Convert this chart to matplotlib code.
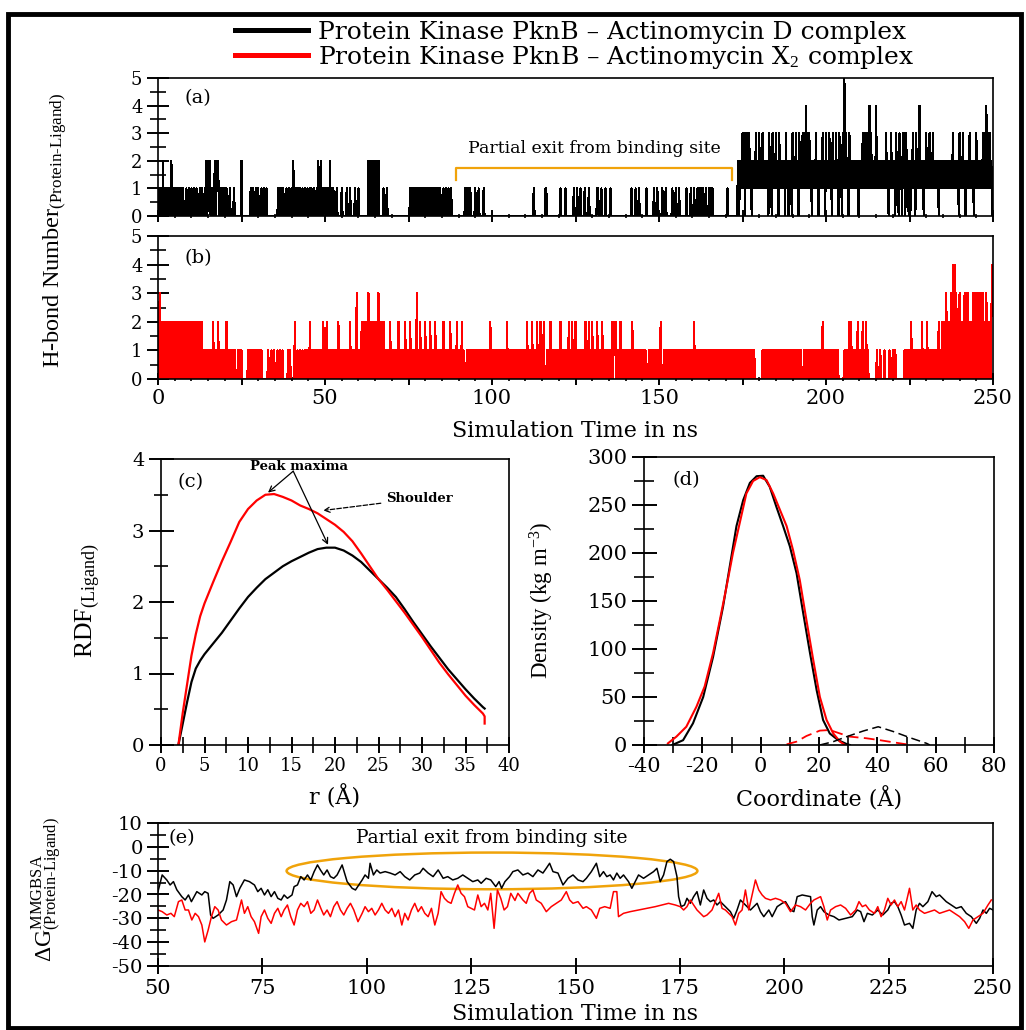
import numpy as np
import matplotlib
matplotlib.use("Agg")
import matplotlib.pyplot as plt
from matplotlib.lines import Line2D
from matplotlib.patches import Ellipse, Rectangle
from matplotlib.ticker import MultipleLocator, FuncFormatter

# ---------------- data ----------------
# H-bond counts, one digit per 0.25 ns, 25 ns (100 digits) per block
HB_STEP = 0.25
HBOND_D_BLOCKS = [
    # 0-25 ns
    "101010" "20" "10101010" "20" "10101010101010"
    "001001001001001000100100" "102012201010201220" "1010101010" "0010000100000000",
    # 25-50
    "20000000" "000100100100100010010010" "000000000000" "10101010"
    "0010010010" "2001001010" "0100100100" "1010010010" "20020101",
    # 50-75
    "10101020" "0010001000" "0010000010" "0010000010" "0010000000" "0000"
    "20202020202020" "0000100010" "000000000000000000000000",
    # 75-100
    "00" "10101010101010101010101010101010101010" "00100100100100" "00000000000000"
    "10101010" "000010001000001000000000",
    # 100-125
    "00000000000000000000000000000000000000000000000000" "1" "0000000000000" "11"
    "0000000000000000" "1" "00000" "1" "000000000" "1" "0",
    # 125-150
    "0010001000" "0100001000" "0000001100" "0100001000" "0010000000"
    "0000000000" "0000000100" "0010001000" "0000010000" "0000100010",
    # 150-175
    "0000100010" "0000001000" "1000100000" "0001000010" "0010001010"
    "1001001000" "1010100000" "0000000000" "0010000000" "0000120212",
    # 175-200
    "3130313131" "2021213121" "3121312121" "2031203121" "3120312121"
    "2031202120" "3121312031" "2131314131" "3120212131" "2021213120",
    # 200-225
    "3121312031" "2131203120" "3151312031" "2121212120" "2121313131"
    "3141312121" "4121212121" "2131202131" "2120312031" "2031303120",
    # 225-250
    "2021312031" "2141212021" "3121312131" "2121202121" "2121212121"
    "2131212120" "3121312021" "2131212021" "3121212131" "3141313120",
]
HBOND_X_BLOCKS = [
    # 0-25 ns
    "2030" "20202020202020202020202020202020202020202020202020"
    "101010101010" "20" "1010" "20" "10101010" "20" "10101010" "10001010",
    # 25-50
    "10000000" "101010101010101010" "000000"
    "1000100100" "0100100100" "0000101000" "0020010010" "0100"
    "101010" "20" "10101010101010" "20",
    # 50-75
    "10" "20" "101010101010" "20" "101010101010" "20" "101010" "30" "1010"
    "20202020" "30" "2020202020" "30" "202020"
    "101010" "20" "10101010" "20" "101010" "20" "10",
    # 75-100
    "10201010103010201010" "20101020101020101010" "10201010102010101020"
    "10102010001010101010" "10101010101010101020",
    # 100-125
    "10101010101010101020" "10101010101010101010" "10201010201010201020"
    "10200010102010101010" "10201010101020102010",
    # 125-150
    "20101010101020102010" "20101020101020101010" "10102021201010201010"
    "10101010201010101010" "10101000101010101010",
    # 150-175
    "10200010101010101010" "10101010101010101010" "10201010101010101010"
    "10101010101010101010" "10101010101010101010",
    # 175-200
    "1010101010101010" "00000000" "101010101010101010101010101010101010101010101010"
    "00" "1010101010101010101010" "20" "10",
    # 200-225
    "1010101010101010" "000000" "101010202010101020101020102010" "000000000"
    "10001000010000010001001" "0000000000" "101010",
    # 225-250
    "10201" "00" "1010101020" "1010201010" "1010101020" "10201"
    "2030202030" "4040302030" "2020303030" "2020303030" "3030303020" "30202024",
]

# radial distribution function
RDF_D_R = [2.0, 2.5, 3.0, 3.5, 4.0, 4.5, 5.0, 6.0, 7.0, 8.0, 9.0, 10.0, 11.0, 12.0, 13.0,
           14.0, 15.0, 16.0, 17.0, 18.0, 19.0, 20.0, 21.0, 22.0, 23.0, 24.0, 25.0, 26.0,
           27.0, 28.0, 29.0, 30.0, 31.0, 32.0, 33.0, 34.0, 35.0, 36.0, 37.0, 37.2]
RDF_D_G = [0.0, 0.30, 0.60, 0.88, 1.07, 1.18, 1.27, 1.42, 1.57, 1.74, 1.91, 2.07, 2.20,
           2.32, 2.41, 2.50, 2.57, 2.63, 2.69, 2.74, 2.76, 2.76, 2.72, 2.65, 2.56, 2.44,
           2.32, 2.20, 2.07, 1.90, 1.72, 1.55, 1.38, 1.22, 1.06, 0.92, 0.78, 0.65, 0.53, 0.51]
RDF_X_R = [2.0, 2.5, 3.0, 3.5, 4.0, 4.5, 5.0, 6.0, 7.0, 8.0, 9.0, 10.0, 11.0, 12.0, 13.0,
           14.0, 15.0, 16.0, 17.0, 18.0, 19.0, 20.0, 21.0, 22.0, 23.0, 24.0, 25.0, 26.0,
           27.0, 28.0, 29.0, 30.0, 31.0, 32.0, 33.0, 34.0, 35.0, 36.0, 37.0, 37.2, 37.2]
RDF_X_G = [0.0, 0.45, 0.85, 1.25, 1.55, 1.80, 1.98, 2.28, 2.57, 2.84, 3.12, 3.30, 3.42,
           3.50, 3.51, 3.47, 3.42, 3.35, 3.30, 3.24, 3.16, 3.08, 2.98, 2.85, 2.68, 2.50,
           2.32, 2.17, 2.01, 1.85, 1.68, 1.51, 1.33, 1.15, 0.99, 0.84, 0.69, 0.56, 0.44,
           0.40, 0.30]

# density profiles (solid = ligand in site, dashed = second population)
DEN_D_X = [-30.3, -26.6, -23.2, -19.7, -16.3, -12.9, -10.6, -8.3, -6.0, -3.7, -1.4, 0.85,
           3.1, 5.4, 7.7, 10.0, 12.3, 14.6, 16.9, 19.2, 21.4, 23.7, 26.6, 29.5, 30.6]
DEN_D_Y = [0, 5, 22.6, 50, 92, 144, 186, 228, 255, 273, 280, 280.5,
           269, 248, 228, 207, 179, 137, 96, 57, 26, 12, 5, 1, 0]
DEN_X_X = [-31.8, -28.9, -25.5, -22.0, -19.2, -16.3, -14.0, -11.7, -9.5, -7.2, -4.9, -2.6, -0.3,
           2.0, 4.3, 6.6, 8.9, 11.1, 13.4, 15.7, 18.0, 20.3, 22.6, 24.9, 27.2, 28.9]
DEN_X_Y = [1.7, 8.7, 19, 40, 61, 96, 130, 165, 200, 231, 262, 275, 279,
           276, 262, 245, 228, 203, 172, 130, 89, 50, 26, 12, 3.5, 0]
DEN_X2_X = [8.9, 12.3, 15.7, 20.3, 23.7, 27.2, 30.6, 36.3, 40.9, 45.5, 50.0]
DEN_X2_Y = [0.7, 3.5, 9.4, 15, 15.6, 12, 8.7, 7, 5, 2.8, 0.7]
DEN_D2_X = [20.3, 24.9, 29.5, 35.2, 40.3, 45.5, 51.2, 56.9, 58.0]
DEN_D2_Y = [0, 3.5, 8.7, 14.6, 19, 14, 7.6, 1.7, 0]

# MMGBSA binding energy
DG_D_T = [50, 51, 52.1, 52.9, 53.7, 54.5, 55.7, 56.5, 57.3, 58, 59.3, 60.5, 61.2, 62, 62.6,
          63.2, 64.4, 65.6, 66.4, 67.2, 68, 68.8, 69.6, 70.7, 71.9, 73.1, 73.9, 74.7, 75.5,
          76.3, 77.1, 77.9, 78.7, 79.5, 80.2, 81, 82.1, 82.6, 83.4, 84.2, 85, 85.8, 86.6,
          87.4, 88.2, 88.9, 89.7, 90.5, 91.3, 92.1, 92.9, 94.1, 95.3, 96.5, 97.3, 98.1, 98.9,
          99.6, 100.4, 100.8, 101.6, 102.4, 103.2, 104.4, 105.6, 106.8, 108, 109.1, 110.3,
          111.5, 112.7, 113.5, 114.7, 115.9, 117.1, 118.3, 119.4, 120.6, 121.8, 123, 124.2,
          125.4, 126.6, 127.4, 128.6, 129.7, 130.9, 131.7, 132.3, 133.1, 134.2, 135, 136.2,
          137.4, 138.6, 139.8, 141, 142.2, 143, 143.8, 144.6, 145.8, 147, 148.2, 149.4, 150.6,
          151.8, 152.6, 153.8, 155, 155.8, 156.7, 157.5, 158.3, 159.1, 159.9, 160.7, 161.5,
          162.7, 163.5, 164.3, 165.1, 166.3, 167.5, 168.7, 169.5, 170.3, 171.1, 171.9, 172.7,
          173.5, 174.3, 174.7, 175.3, 176.1, 176.7, 177.5, 178.3, 179.1, 179.9, 180.7, 181.5,
          182.3, 183.1, 183.9, 184.7, 185.9, 187.1, 187.9, 188.7, 189.5, 190.7, 191.9, 192.7,
          193.5, 194.3, 195.1, 196.3, 197.1, 198.3, 199.5, 200.3, 201.5, 202.3, 203.1, 204.3,
          205.5, 206.3, 206.7, 207.1, 207.9, 208.7, 209.5, 210.7, 211.9, 213.1, 214.7, 216.3,
          217.5, 218.3, 219.1, 219.9, 221.1, 222.4, 223.6, 224.8, 225.6, 226.4, 227.2, 228,
          228.8, 230, 230.8, 231.6, 232.4, 233.2, 234.4, 235.4, 236.4, 237.2, 238, 238.8, 240,
          241.2, 242.4, 243.6, 244.8, 246, 246.8, 247.6, 248.4, 249.2, 250]
DG_D_V = [-18.8, -11.8, -13.9, -16, -14.6, -18, -20.9, -22.3, -20.2, -23, -18.8, -20.2, -18.8,
          -19.5, -28.6, -30, -28.6, -26.5, -22.3, -14.6, -16, -20.9, -17.4, -13.9, -14.6, -16,
          -18.8, -17.4, -20.2, -18, -20.9, -18.8, -21.6, -22.3, -20.2, -21.6, -20.2, -16.7, -16,
          -12.5, -13.9, -11.8, -13.9, -10.4, -7.6, -9.7, -11.8, -9.7, -12.5, -13.2, -11.8, -7.6,
          -14.6, -17.4, -18.1, -16, -13.9, -11.8, -13.2, -6.9, -11.8, -9.7, -11, -10.4, -11,
          -11.8, -10.4, -12.5, -13.9, -11.8, -11, -9, -11, -12.5, -9.7, -13.2, -12.5, -13.9,
          -13.2, -11.8, -13.2, -14.6, -13.9, -15.3, -13.2, -13.9, -16.7, -14.6, -17.4, -14.6,
          -12.5, -10.4, -9.7, -11.8, -11, -12.5, -9.7, -11, -9, -6.9, -10.4, -11, -16, -13.2,
          -11.8, -13.9, -14.6, -13.2, -10.4, -6.9, -12.5, -10.4, -12.5, -11.8, -13.9, -11,
          -13.2, -11.8, -14.6, -17.4, -14.6, -11.8, -13.2, -11.8, -10.4, -9, -14.6, -11.8, -6.2,
          -5.2, -6.2, -12.5, -20.9, -25.1, -24.4, -21.6, -23.7, -20.9, -18.8, -24.4, -18.1,
          -21.6, -23, -22.3, -24.4, -23, -25.1, -27.2, -30, -26.5, -22.3, -24.4, -26.5, -25.1,
          -23.7, -27.2, -29.3, -26.5, -29.3, -25.1, -23.7, -23, -26.5, -27.2, -20.9, -20.2,
          -20.6, -20.9, -29.3, -32.8, -26.5, -25.1, -27.2, -28.6, -29.3, -30.7, -30, -29.3,
          -26.5, -27.2, -31.4, -27.9, -28.6, -26.5, -28.6, -26.5, -23.7, -23, -25.1, -28.6,
          -32.8, -32.1, -34.2, -26.5, -23.7, -25.1, -23, -18.8, -20.9, -20.2, -21.6, -23, -24.4,
          -25.8, -25.1, -27.9, -29.3, -32.1, -30, -26.5, -27.9, -25.8, -26.5]
DG_X_T = [50, 51, 52.1, 53.1, 53.9, 54.9, 55.7, 56.5, 57.3, 58.1, 58.9, 59.7, 60.5, 61.2, 62,
          62.8, 63.6, 64.4, 65.2, 66.4, 67.6, 68.8, 70, 70.7, 71.5, 72.3, 73.1, 74.1, 74.7,
          75.5, 76.3, 77.1, 77.9, 78.7, 79.5, 80.2, 81, 81.8, 82.6, 83.4, 84.2, 85, 85.8, 86.6,
          87.4, 88.2, 89, 89.7, 90.5, 91.3, 92.1, 92.9, 93.7, 94.5, 95.3, 96.1, 96.9, 97.9,
          98.9, 99.6, 100.4, 101.2, 102, 102.8, 103.6, 104.4, 105.2, 106, 106.8, 107.6, 108.4,
          109.1, 109.9, 110.7, 111.5, 112.3, 113.1, 113.9, 114.7, 115.5, 116.3, 117.1, 117.8,
          118.6, 119.4, 120.2, 121, 121.8, 122.6, 123.4, 124.2, 125, 125.8, 126.6, 127.4, 128.2,
          129, 129.7, 130.5, 131.3, 132.1, 132.9, 133.7, 134.5, 135.5, 136.2, 137.4, 138.2, 139,
          139.8, 140.6, 141.8, 143, 144.2, 145.4, 146.6, 147.8, 148.6, 149.4, 150.6, 151.8,
          152.6, 153.8, 155, 155.8, 157, 158.3, 159.1, 159.9, 160.3, 161.5, 163.1, 165.1, 167.1,
          169.1, 170.7, 172.3, 173.9, 175.1, 175.9, 176.7, 177.5, 178.3, 179.1, 179.9, 180.7,
          181.5, 182.7, 183.5, 184.3, 185.1, 185.9, 186.7, 187.5, 188.3, 189.1, 189.9, 190.7,
          191.5, 192.3, 193.1, 193.9, 194.7, 195.5, 196.7, 197.9, 199.1, 200.3, 201.5, 202.7,
          203.9, 205.1, 206.3, 207.1, 207.9, 208.7, 209.5, 210.3, 211.1, 212.3, 213.5, 214.7,
          215.9, 217.1, 217.9, 218.7, 219.5, 220.4, 221.6, 222.4, 223.2, 224, 224.8, 225.6,
          226.4, 227.2, 228, 228.8, 230, 230.8, 231.6, 232.4, 233.6, 234.8, 236, 237.2, 238.4,
          239.6, 240.8, 242, 243.2, 244.2, 245.2, 246.4, 247.6, 248.8, 249.6]
DG_X_V = [-26.5, -27.2, -28.6, -27.9, -29.3, -23, -22.3, -26.5, -26.5, -30.7, -27.9, -29.3,
          -32.8, -39.9, -35, -29.3, -25.1, -26.5, -30.7, -32.8, -31.4, -30.7, -22.3, -27.9,
          -25.1, -29.3, -31.4, -36.3, -29.3, -26.5, -30, -32.1, -27.9, -25.8, -29.3, -26.5,
          -24.4, -29.3, -32.8, -26.5, -23.7, -25.1, -23, -27.9, -26.5, -22.3, -25.8, -28.6,
          -26.5, -29.3, -25.1, -23, -26.5, -28.6, -25.8, -23.7, -26.5, -31.4, -27.9, -25.1,
          -27.2, -25.8, -28.6, -26.5, -23.7, -26.5, -27.9, -25.8, -29.3, -26.5, -32.8, -27.9,
          -30.7, -26.5, -23.7, -27.2, -25.1, -27.9, -29.3, -25.8, -32.8, -27.9, -18.8, -21.6,
          -23, -23.7, -19.5, -16, -19.5, -20.9, -25.1, -25.8, -26.5, -20.2, -25.1, -23.7, -26.5,
          -19.5, -34.2, -18.1, -21.6, -26.5, -25.1, -19.5, -22.5, -19.5, -22.3, -23.7, -19.5,
          -18.1, -22.3, -23.7, -27.2, -25.1, -23.7, -22.3, -18.8, -22.3, -23.7, -23, -25.8,
          -25.1, -26.5, -30, -25.8, -25.1, -25.8, -18.8, -18.8, -29.3, -27.9, -27.2, -26.5,
          -25.8, -25.1, -24.4, -23.7, -24.4, -25.1, -26.5, -25.1, -22.3, -24.4, -26.5, -27.9,
          -29.3, -28.6, -26.5, -23, -19.5, -25.8, -26.5, -27.9, -29.3, -32.8, -27.9, -26.5,
          -18.1, -26.5, -20.2, -13.9, -18.1, -20.2, -21.6, -22.3, -21.6, -22.3, -23.7, -27.2,
          -24.4, -25.1, -26.5, -23.7, -22.3, -21.6, -20.9, -25.1, -30.7, -26.5, -25.1, -24.4,
          -25.8, -28.6, -26.5, -23, -25.1, -24.4, -26.5, -27.9, -25.1, -29.3, -26.5, -21.6,
          -24.4, -22.3, -25.1, -23, -26.5, -17.4, -26.5, -24.4, -26.5, -27.9, -27.2, -26.5,
          -27.9, -27.2, -26.5, -27.9, -29.3, -31.4, -34.2, -30.7, -29.3, -27.9, -24.4, -22.3]

# annotation spans (ns)
EXIT_BRACKET = (89.2, 171.9)
EXIT_ELLIPSE = (80.8, 179.2, -17.8, -2.4)

LABEL_D = "Protein Kinase PknB \u2013 Actinomycin D complex"
LABEL_X = "Protein Kinase PknB \u2013 Actinomycin X$_2$ complex"
HB_TICKS = [0, 50, 100, 150, 200, 250]

ORANGE = "#f0a30a"

# ---------------- figure ----------------
plt.rcParams["font.family"] = "DejaVu Serif"
plt.rcParams["mathtext.fontset"] = "custom"
plt.rcParams["mathtext.rm"] = "Liberation Serif"
plt.rcParams["mathtext.it"] = "Liberation Serif:italic"
plt.rcParams["mathtext.bf"] = "Liberation Serif:bold"
plt.rcParams["axes.unicode_minus"] = False
plt.rcParams["axes.linewidth"] = 1.2

W, H = 1026, 1030
fig = plt.figure(figsize=(W / 100, H / 100), dpi=100)


def px_box(left, top, right, bottom):
    return [left / W, 1 - bottom / H, (right - left) / W, (bottom - top) / H]


def style_ticks(ax, xmaj, xmin, ymaj, ymin, xlen, ylen, xsize, ysize):
    ax.xaxis.set_major_locator(MultipleLocator(xmaj))
    ax.yaxis.set_major_locator(MultipleLocator(ymaj))
    if xmin:
        ax.xaxis.set_minor_locator(MultipleLocator(xmin))
    if ymin:
        ax.yaxis.set_minor_locator(MultipleLocator(ymin))
    ax.tick_params(axis="x", which="major", direction="inout", length=xlen[0], width=1.4,
                   labelsize=xsize, pad=3)
    ax.tick_params(axis="x", which="minor", direction="inout", length=xlen[1], width=1.2)
    ax.tick_params(axis="y", which="major", direction="inout", length=ylen[0], width=1.4,
                   labelsize=ysize, pad=3)
    ax.tick_params(axis="y", which="minor", direction="inout", length=ylen[1], width=1.2)


hb_d = np.array([int(c) for c in "".join(HBOND_D_BLOCKS)], dtype=float)
hb_x = np.array([int(c) for c in "".join(HBOND_X_BLOCKS)], dtype=float)
t_d = np.arange(len(hb_d)) * HB_STEP
t_x = np.arange(len(hb_x)) * HB_STEP

hb_fmt = FuncFormatter(lambda v, p: f"{v:g}" if int(round(v)) in HB_TICKS else "")

# (a)
ax_a = fig.add_axes(px_box(158, 78, 993, 216))
ax_a.plot(t_d, hb_d, color="black", lw=0.85, antialiased=False)
ax_a.set_xlim(0, 250)
ax_a.set_ylim(0, 5)
style_ticks(ax_a, 25, 5, 1, 0.5, (8.5, 2.5), (16.5, 11), 15, 13)
ax_a.tick_params(axis="x", labelbottom=False)
ax_a.plot([EXIT_BRACKET[0], EXIT_BRACKET[0], EXIT_BRACKET[1], EXIT_BRACKET[1]],
          [1.3, 1.74, 1.74, 1.3], color=ORANGE, lw=1.6)
ax_a.text(sum(EXIT_BRACKET) / 2, 2.46, "Partial exit from binding site",
          ha="center", va="center", fontsize=12.5)
ax_a.text(0.032, 0.855, "(a)", transform=ax_a.transAxes, fontsize=14, va="center")

# (b)
ax_b = fig.add_axes(px_box(158, 236, 993, 379))
ax_b.plot(t_x, hb_x, color="#ff0000", lw=0.85, antialiased=False)
ax_b.set_xlim(0, 250)
ax_b.set_ylim(0, 5)
style_ticks(ax_b, 25, 5, 1, 0.5, (8.5, 2.5), (16.5, 11), 15, 13)
ax_b.xaxis.set_major_formatter(hb_fmt)
ax_b.set_xlabel("Simulation Time in ns", fontsize=16)
ax_b.xaxis.set_label_coords(0.5, -0.29)
ax_b.text(0.032, 0.846, "(b)", transform=ax_b.transAxes, fontsize=14, va="center")

fig.text(55 / W, 1 - 230 / H, "H-bond Number$_{\\text{(Protein-Ligand)}}$",
         rotation=90, ha="center", va="center", fontsize=17.5, family="Liberation Serif")

# (c)
ax_c = fig.add_axes(px_box(161, 459, 509, 745))
ax_c.plot(RDF_D_R, RDF_D_G, color="black", lw=1.6)
ax_c.plot(RDF_X_R, RDF_X_G, color="#ff0000", lw=1.6)
ax_c.set_xlim(0, 40)
ax_c.set_ylim(0, 4)
style_ticks(ax_c, 5, 2.5, 1, 0.5, (11, 11), (18, 10), 13, 14)
ax_c.set_xlabel("r (\u00c5)", fontsize=16)
ax_c.xaxis.set_label_coords(0.5, -0.14)
ax_c.text(0.046, 0.92, "(c)", transform=ax_c.transAxes, fontsize=14, va="center")
arrow = dict(arrowstyle="->", color="black", lw=0.9, shrinkA=0, shrinkB=0)
ax_c.annotate("", xy=(12.3, 3.53), xytext=(15.2, 3.83), arrowprops=arrow)
ax_c.annotate("", xy=(19.2, 2.80), xytext=(15.2, 3.83), arrowprops=arrow)
ax_c.text(15.9, 3.89, "Peak maxima", ha="center", va="center", fontsize=9.5, fontweight="bold")
ax_c.annotate("Shoulder", xy=(18.65, 3.28), xytext=(25.9, 3.45), va="center", ha="left",
              fontsize=9.5, fontweight="bold",
              arrowprops=dict(arrowstyle="->", color="black", lw=0.9, ls="--",
                              shrinkA=2, shrinkB=0))
fig.text(88 / W, 1 - 601 / H, "RDF$_{\\text{(Ligand)}}$", rotation=90, ha="center",
         va="center", fontsize=18.5, family="Liberation Serif")

# (d)
ax_d = fig.add_axes(px_box(644, 457, 994, 745))
ax_d.plot(DEN_D_X, DEN_D_Y, color="black", lw=1.5)
ax_d.plot(DEN_X_X, DEN_X_Y, color="#ff0000", lw=1.5)
ax_d.plot(DEN_X2_X, DEN_X2_Y, color="#ff0000", lw=1.3, ls=(0, (6, 3)))
ax_d.plot(DEN_D2_X, DEN_D2_Y, color="black", lw=1.1, ls=(0, (6, 3)))
ax_d.set_xlim(-40, 80)
ax_d.set_ylim(0, 300)
style_ticks(ax_d, 20, 10, 50, 25, (12, 12), (18, 14), 15, 15)
ax_d.set_xlabel("Coordinate (\u00c5)", fontsize=16)
ax_d.xaxis.set_label_coords(0.5, -0.146)
ax_d.text(0.08, 0.92, "(d)", transform=ax_d.transAxes, fontsize=14, va="center")
fig.text(542 / W, 1 - 600 / H, "Density (kg m$^{-3}$)", rotation=90, ha="center",
         va="center", fontsize=16.5, family="Liberation Serif")

# (e)
ax_e = fig.add_axes(px_box(158, 823, 993, 966))
ax_e.plot(DG_D_T, DG_D_V, color="black", lw=1.1)
ax_e.plot(DG_X_T, DG_X_V, color="#ff0000", lw=1.1)
ax_e.set_xlim(50, 250)
ax_e.set_ylim(-50, 10)
style_ticks(ax_e, 25, None, 10, 5, (12, 0), (16, 11), 15, 14)
ax_e.set_xlabel("Simulation Time in ns", fontsize=16)
ax_e.xaxis.set_label_coords(0.5, -0.26)
x0, x1, y0, y1 = EXIT_ELLIPSE
ax_e.add_patch(Ellipse(((x0 + x1) / 2, (y0 + y1) / 2), x1 - x0, y1 - y0,
                       fill=False, ec=ORANGE, lw=1.8))
ax_e.text((x0 + x1) / 2, 3.7, "Partial exit from binding site", ha="center", va="center",
          fontsize=13.5)
ax_e.text(0.012, 0.895, "(e)", transform=ax_e.transAxes, fontsize=14, va="center")
fig.text(47 / W, 1 - 890 / H,
         "\u0394G$^{\\text{MMGBSA}}_{\\text{(Protein-Ligand)}}$",
         rotation=90, ha="center", va="center", fontsize=17, family="Liberation Serif")

# legend
handles = [Line2D([], [], color="black", lw=3.6), Line2D([], [], color="#ff0000", lw=3.6)]
fig.legend(handles, [LABEL_D, LABEL_X], loc="upper center",
           bbox_to_anchor=(575 / W, 1 - 21 / H), frameon=False, fontsize=18,
           handlelength=2.9, handletextpad=0.4, labelspacing=0.0, borderpad=0,
           borderaxespad=0)

# outer frame
fig.add_artist(Rectangle((8 / W, 2 / H), 1013 / W, 1014 / H, transform=fig.transFigure,
                         fill=False, ec="black", lw=3.5))

fig.savefig("out.png", dpi=100)
